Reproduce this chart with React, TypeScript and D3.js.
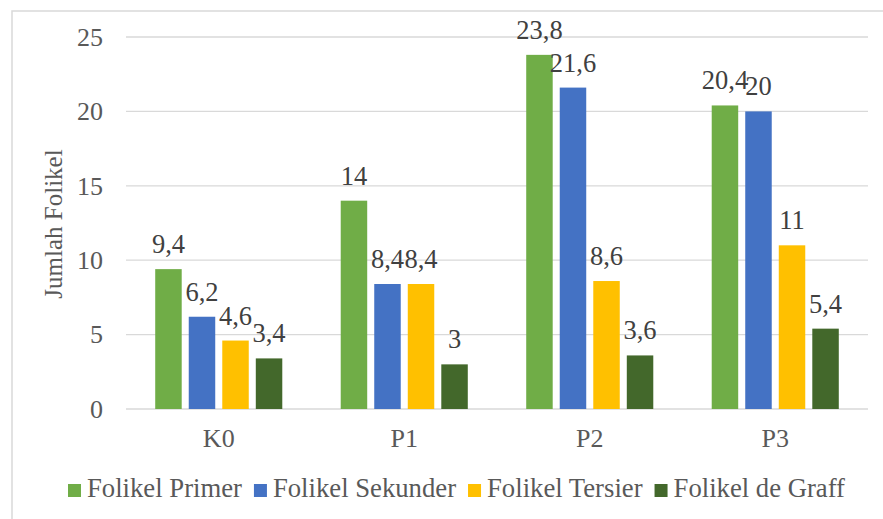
import React, { useEffect, useRef } from 'react';
import * as d3 from 'd3';

const categories = ['K0', 'P1', 'P2', 'P3'];
const seriesNames = ['Folikel Primer', 'Folikel Sekunder', 'Folikel Tersier', 'Folikel de Graff'];
const primer = [9.4, 14, 23.8, 20.4];
const sekunder = [6.2, 8.4, 21.6, 20];
const tersier = [4.6, 8.4, 8.6, 11];
const graff = [3.4, 3, 3.6, 5.4];
const yTicks = [0, 5, 10, 15, 20, 25];
const colors = ['#70AD47', '#4472C4', '#FFC000', '#43682B'];

const W = 883;
const H = 519;
const FONT = 'Liberation Serif, Times New Roman, DejaVu Serif, serif';
const TEXT = '#595959';

function App() {
  const ref = useRef<SVGSVGElement>(null);

  useEffect(() => {
    const svg = d3.select(ref.current);
    svg.selectAll('*').remove();

    const values = [primer, sekunder, tersier, graff];
    const rows = categories.map((c, i) => ({
      cat: c,
      vals: seriesNames.map((s, j) => ({ name: s, v: values[j][i], color: colors[j] })),
    }));

    const plot = { left: 126, right: 868, top: 37, bottom: 409 };

    // chart area border
    svg.append('rect')
      .attr('x', 12).attr('y', 11)
      .attr('width', W + 20).attr('height', H + 20)
      .attr('fill', 'white')
      .attr('stroke', '#D9D9D9').attr('stroke-width', 1.5);

    const x0 = d3.scaleBand()
      .domain(categories)
      .range([plot.left, plot.right])
      .paddingInner(0.315)
      .paddingOuter(0.1575);
    const x1 = d3.scaleBand()
      .domain(seriesNames)
      .range([0, x0.bandwidth()])
      .paddingInner(0.21);
    const y = d3.scaleLinear().domain([0, 25]).range([plot.bottom, plot.top]);

    // gridlines
    svg.append('g')
      .selectAll('line')
      .data(yTicks)
      .enter()
      .append('line')
      .attr('x1', plot.left).attr('x2', plot.right)
      .attr('y1', d => y(d)).attr('y2', d => y(d))
      .attr('stroke', '#D9D9D9').attr('stroke-width', 1.3);

    const txt = (sel: any, size: number, fill: string) =>
      sel.attr('font-family', FONT).attr('font-size', size).attr('fill', fill);

    // y tick labels
    txt(svg.append('g')
      .selectAll('text')
      .data(yTicks)
      .enter()
      .append('text')
      .attr('x', 103)
      .attr('y', (d: number) => y(d))
      .attr('dy', '0.34em')
      .attr('text-anchor', 'end'), 26, TEXT)
      .text((d: number) => d);

    // y title
    txt(svg.append('text')
      .attr('transform', `translate(62,224) rotate(-90)`)
      .attr('text-anchor', 'middle'), 25, TEXT)
      .text('Jumlah Folikel');

    // bars
    const groups = svg.append('g')
      .selectAll('g')
      .data(rows)
      .enter()
      .append('g')
      .attr('transform', d => `translate(${x0(d.cat)},0)`);

    groups.selectAll('rect')
      .data(d => d.vals)
      .enter()
      .append('rect')
      .attr('x', d => x1(d.name)!)
      .attr('y', d => y(d.v))
      .attr('width', x1.bandwidth())
      .attr('height', d => y(0) - y(d.v))
      .attr('fill', d => d.color);

    txt(groups.selectAll('text')
      .data(d => d.vals)
      .enter()
      .append('text')
      .attr('x', (d: any) => x1(d.name)! + x1.bandwidth() / 2)
      .attr('y', (d: any) => y(d.v) - 16)
      .attr('text-anchor', 'middle'), 26.5, '#404040')
      .text((d: any) => String(d.v).replace('.', ','));

    // category labels
    txt(svg.append('g')
      .selectAll('text')
      .data(categories)
      .enter()
      .append('text')
      .attr('x', (d: string) => x0(d)! + x0.bandwidth() / 2)
      .attr('y', 447)
      .attr('text-anchor', 'middle'), 26, TEXT)
      .text((d: string) => d);

    // legend, centred on chart area
    const legend = svg.append('g');
    const items = seriesNames.map((s, i) => {
      const g = legend.append('g');
      g.append('rect').attr('x', 0).attr('y', -13).attr('width', 13).attr('height', 13).attr('fill', colors[i]);
      const t = txt(g.append('text').attr('x', 19).attr('y', 0), 26.7, TEXT).text(s);
      const w = 19 + (t.node() as SVGTextElement).getComputedTextLength();
      return { g, w };
    });
    const gap = 12;
    const total = d3.sum(items, d => d.w) + gap * (items.length - 1);
    let cx = 456.5 - total / 2;
    items.forEach(it => {
      it.g.attr('transform', `translate(${cx},497)`);
      cx += it.w + gap;
    });
  }, []);

  return (
    <svg
      ref={ref}
      width={W}
      height={H}
      style={{ position: 'absolute', left: 0, top: 0, background: 'white' }}
    />
  );
}

export default App;
